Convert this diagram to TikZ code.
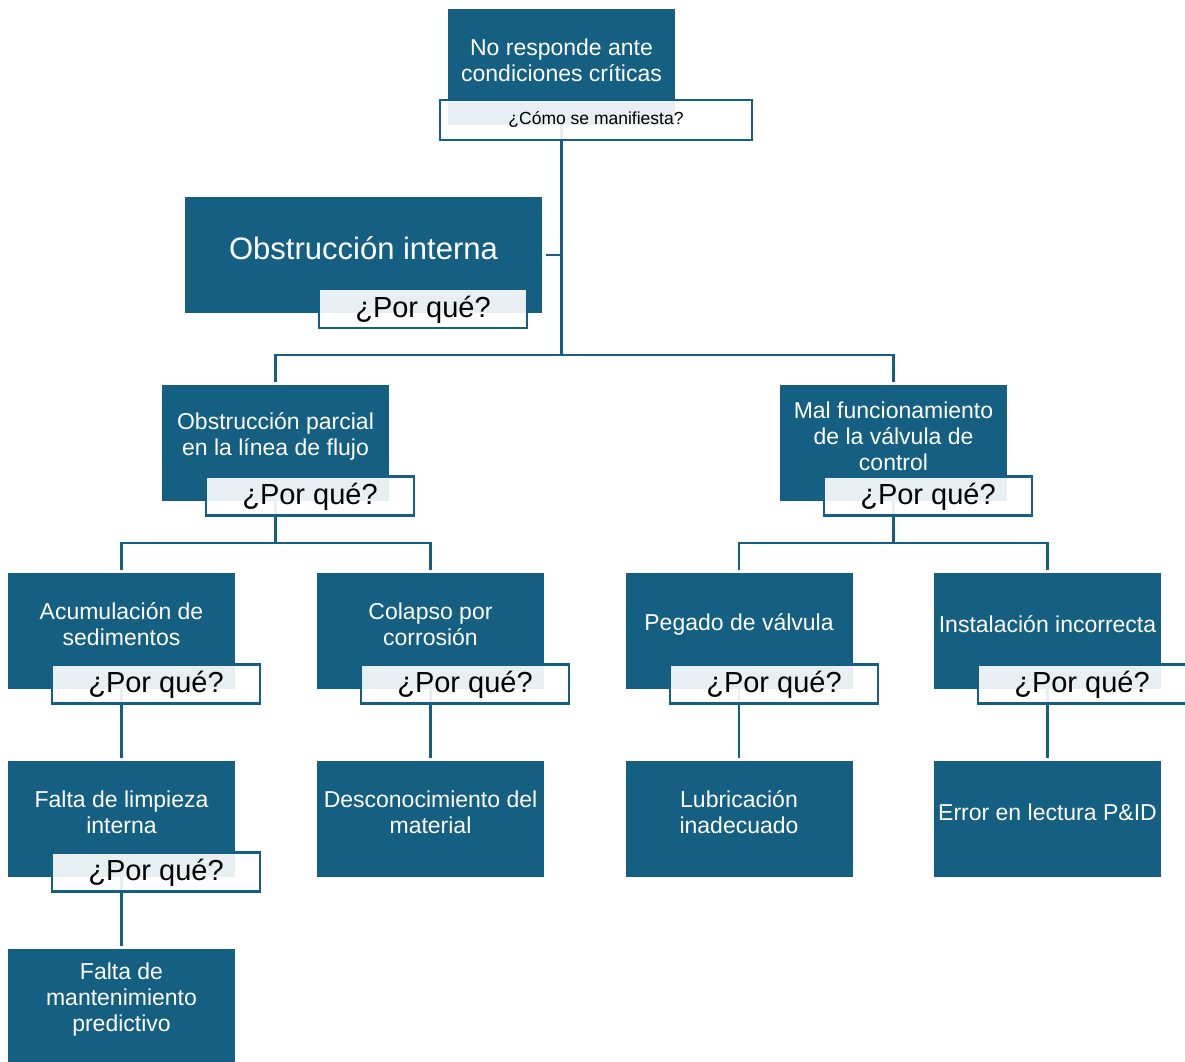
\documentclass[tikz,border=0pt]{standalone}
\usepackage{fontspec}
\setmainfont{Liberation Sans}
\definecolor{mainblue}{HTML}{156082}
\begin{document}
\begin{tikzpicture}[x=1pt,y=-1pt,
  box/.style={fill=mainblue, draw=none, inner sep=0pt, minimum width=227pt, minimum height=116pt},
  boxtext/.style={text=white, align=center, inner sep=0pt, yshift=-2pt, font=\fontsize{23}{26}\selectfont},
  why/.style={draw=mainblue, line width=2.2pt, fill=white, fill opacity=0.9, text opacity=1,
    inner sep=0pt, minimum width=208pt, minimum height=39pt, text=black,
    text height=21pt, text depth=4pt,
    font=\fontsize{29}{32}\selectfont},
  link/.style={draw=mainblue, line width=2.5pt},
  gap/.style={shorten >=3pt}]
\useasboundingbox (0,0) rectangle (1185,1061);

% boxes
\node[box] (n0) at (561.5,67) {};
\node[box, minimum width=357pt] (n1) at (363.5,255) {};
\node[box] (n2a) at (275.5,443) {};
\node[box] (n2b) at (893.5,443) {};
\node[box] (n3a) at (121.5,631) {};
\node[box] (n3b) at (430.5,631) {};
\node[box] (n3c) at (739,631) {};
\node[box] (n3d) at (1047.5,631) {};
\node[box] (n4a) at (121.5,819) {};
\node[box] (n4b) at (430.5,819) {};
\node[box] (n4c) at (739,819) {};
\node[box] (n4d) at (1047.5,819) {};
\node[box] (n5a) at (121.5,1007) {};

% junction points
\coordinate (j1) at (561.5,355);
\coordinate (j2a) at (275.5,543);
\coordinate (j2b) at (893.5,543);

% connectors
\draw[link] (n0.south) -- (j1);
\draw[link] ([xshift=4pt]n1.east) -- (n1.east -| n0.south);
\draw[link, shorten <=3pt] (n2a.north) |- (j1);
\draw[link, gap] (j1) -| (n2b.north);
\draw[link] (n2a.south) -- (j2a);
\draw[link, shorten <=3pt] (n3a.north) |- (j2a);
\draw[link, gap] (j2a) -| (n3b.north);
\draw[link] (n2b.south) -- (j2b);
\draw[link, shorten <=3pt] (n3c.north) |- (j2b);
\draw[link, gap] (j2b) -| (n3d.north);
\draw[link, gap] (n3a.south) -- (n4a.north);
\draw[link, gap] (n3b.south) -- (n4b.north);
\draw[link, gap] (n3c.south) -- (n4c.north);
\draw[link, gap] (n3d.south) -- (n4d.north);
\draw[link, gap] (n4a.south) -- (n5a.north);

% question tags
\node[why, minimum width=312pt, minimum height=40pt, text height=13pt, text depth=4pt,
  font=\fontsize{17.5}{20}\selectfont] (q0) at (596,120) {¿Cómo se manifiesta?};
\node[why] (q1) at (423,308.5) {¿Por qué?};
\node[why] (q2a) at (310,496) {¿Por qué?};
\node[why] (q2b) at (928,496) {¿Por qué?};
\node[why] (q3a) at (156,684) {¿Por qué?};
\node[why] (q3b) at (465,684) {¿Por qué?};
\node[why] (q3c) at (774,684) {¿Por qué?};
\node[why] (q3d) at (1082,684) {¿Por qué?};
\node[why] (q4a) at (156,872) {¿Por qué?};

% box texts
\node[boxtext] (t0) at (561.5,58) {No responde ante\\condiciones críticas};
\node[boxtext, font=\fontsize{31}{34}\selectfont] (t1) at (363.5,246) {Obstrucción interna};
\node[boxtext] (t2a) at (275.5,434) {Obstrucción parcial\\en la línea de flujo};
\node[boxtext] (t2b) at (893.5,434) {Mal funcionamiento\\de la válvula de\\control};
\node[boxtext] (t3a) at (121.5,622) {Acumulación de\\sedimentos};
\node[boxtext] (t3b) at (430.5,622) {Colapso por\\corrosión};
\node[boxtext] (t3c) at (739,622) {Pegado de válvula};
\node[boxtext] (t3d) at (1047.5,622) {Instalación incorrecta};
\node[boxtext] (t4a) at (121.5,810) {Falta de limpieza\\interna};
\node[boxtext] (t4b) at (430.5,810) {Desconocimiento del\\material};
\node[boxtext] (t4c) at (739,810) {Lubricación\\inadecuado};
\node[boxtext] (t4d) at (1047.5,810) {Error en lectura P\&ID};
\node[boxtext] (t5a) at (121.5,998) {Falta de\\mantenimiento\\predictivo};
\end{tikzpicture}
\end{document}
